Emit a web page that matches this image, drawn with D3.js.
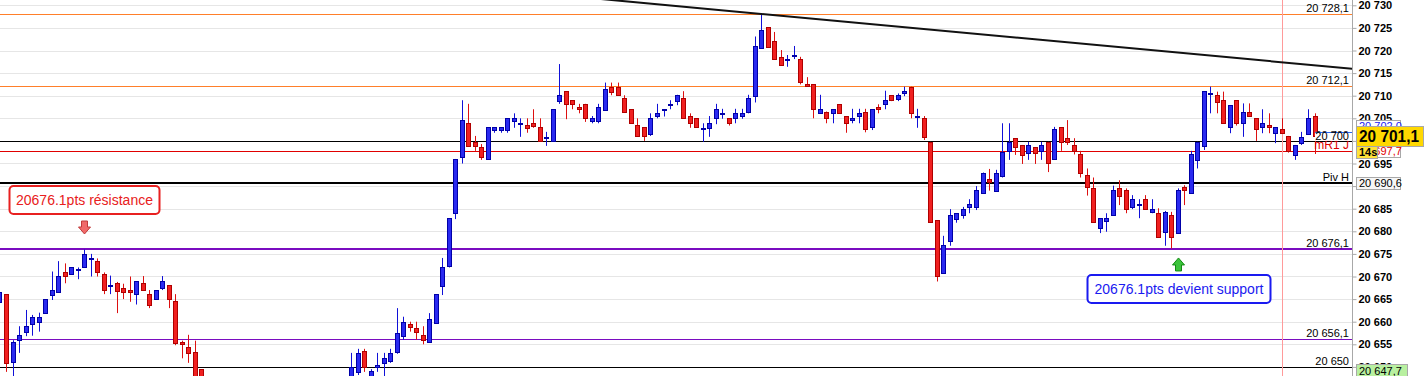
<!DOCTYPE html>
<html>
<head>
<meta charset="utf-8">
<script src="https://cdn.jsdelivr.net/npm/d3@7"></script>
<style>
  body { margin: 0; background: #fff; overflow: hidden; }
  svg { display: block; font-family: Arial, "Liberation Sans", sans-serif; }
</style>
</head>
<body>
<svg id="chart" width="1424" height="376"></svg>
<script>
/*global d3*/

// index of the first candle (it is cut by the left edge)
var firstIndex = -1;

var opens = [
  20664.4, 20666.1, 20651.1, 20656.0, 20657.8, 20659.4, 20659.9, 20661.9, 20666.0, 20666.5,
  20670.9, 20670.5, 20671.4, 20672.0, 20674.0, 20673.4, 20670.5, 20668.0, 20668.5, 20667.5,
  20667.0, 20666.1, 20668.5, 20666.1, 20665.0, 20667.4, 20668.1, 20664.6, 20655.4, 20654.3,
  20653.4, 20649.5, 20644.0, 20639.5, 20637.0, 20639.8, 20638.2, 20634.5, 20636.8, 20632.8,
  20634.2, 20636.5, 20638.9, 20635.8, 20637.9, 20640.6, 20639.1, 20642.4, 20641.0, 20643.0,
  20644.2, 20641.8, 20643.6, 20644.8, 20646.0, 20648.9, 20653.5, 20647.0, 20649.9, 20650.9,
  20651.4, 20653.2, 20656.9, 20659.5, 20658.5, 20657.0, 20655.4, 20659.8, 20668.0, 20672.4,
  20684.0, 20696.5, 20703.9, 20699.8, 20698.6, 20695.9, 20702.5, 20702.5, 20702.4, 20704.5,
  20703.8, 20703.5, 20704.0, 20703.0, 20700.8, 20700.0, 20708.9, 20711.0, 20709.0, 20707.4,
  20708.2, 20704.5, 20704.5, 20706.8, 20711.9, 20712.0, 20709.4, 20707.0, 20703.5, 20703.0,
  20701.5, 20705.4, 20706.9, 20708.1, 20708.9, 20709.4, 20705.4, 20705.0, 20702.7, 20702.9,
  20705.0, 20706.0, 20705.0, 20705.0, 20705.4, 20706.5, 20710.0, 20720.5, 20725.1, 20722.0,
  20718.5, 20718.0, 20718.9, 20718.1, 20712.6, 20712.5, 20706.1, 20706.5, 20706.1, 20708.1,
  20705.5, 20704.6, 20705.4, 20706.5, 20703.0, 20707.5, 20708.1, 20710.1, 20709.3, 20710.5,
  20712.0, 20705.4, 20705.0, 20699.8, 20682.5, 20670.8, 20677.9, 20682.8, 20683.5, 20685.4,
  20685.4, 20688.4, 20691.5, 20689.0, 20692.2, 20697.8, 20700.6, 20699.1, 20697.4, 20698.6,
  20697.8, 20699.8, 20695.9, 20703.0, 20700.6, 20699.1, 20697.0, 20692.4, 20689.5, 20680.8,
  20682.3, 20683.5, 20689.5, 20689.1, 20685.4, 20685.9, 20687.1, 20684.3, 20684.0, 20679.9,
  20683.6, 20679.6, 20689.7, 20688.4, 20695.8, 20698.9, 20710.4, 20710.2, 20709.0, 20703.0,
  20709.0, 20703.9, 20706.5, 20705.0, 20703.0, 20703.5, 20701.8, 20702.6, 20701.1, 20696.9,
  20699.5, 20701.5, 20705.5
];

var highs = [
  20668.1, 20666.1, 20655.9, 20659.0, 20662.6, 20661.5, 20662.0, 20665.0, 20671.1, 20673.4,
  20672.9, 20672.0, 20672.0, 20676.0, 20675.0, 20674.0, 20670.9, 20670.2, 20668.8, 20668.4,
  20670.0, 20669.0, 20670.1, 20667.0, 20667.0, 20670.1, 20668.1, 20666.1, 20655.8, 20657.1,
  20655.8, 20649.5, 20645.5, 20641.0, 20640.5, 20642.0, 20639.0, 20637.5, 20638.0, 20635.0,
  20637.0, 20639.5, 20640.0, 20638.5, 20641.5, 20642.5, 20643.0, 20644.5, 20643.5, 20645.8,
  20645.0, 20644.5, 20646.0, 20646.5, 20653.1, 20654.0, 20654.0, 20649.5, 20653.1, 20653.1,
  20654.0, 20663.0, 20661.1, 20660.0, 20660.0, 20659.0, 20661.9, 20666.1, 20674.1, 20682.9,
  20696.0, 20709.0, 20708.2, 20701.1, 20699.3, 20703.0, 20703.0, 20703.0, 20705.0, 20706.1,
  20705.0, 20705.0, 20707.0, 20705.0, 20702.0, 20707.0, 20717.0, 20711.0, 20709.0, 20708.2,
  20708.2, 20705.5, 20708.2, 20712.9, 20712.9, 20712.9, 20710.1, 20707.0, 20705.0, 20703.0,
  20706.1, 20708.2, 20707.0, 20709.0, 20710.2, 20711.0, 20706.1, 20705.0, 20703.9, 20705.5,
  20708.2, 20707.1, 20705.0, 20707.1, 20707.1, 20710.2, 20723.1, 20728.1, 20725.1, 20724.1,
  20720.1, 20719.0, 20721.0, 20718.6, 20714.1, 20712.5, 20710.2, 20706.5, 20707.0, 20708.1,
  20705.5, 20707.1, 20707.1, 20707.1, 20707.0, 20708.1, 20711.1, 20710.1, 20710.5, 20712.0,
  20712.0, 20707.1, 20705.5, 20699.8, 20682.5, 20679.0, 20684.9, 20684.0, 20685.4, 20687.1,
  20690.0, 20693.0, 20693.8, 20693.6, 20703.9, 20703.9, 20700.6, 20699.1, 20699.8, 20698.6,
  20699.8, 20699.8, 20703.1, 20703.0, 20704.6, 20700.6, 20697.8, 20693.9, 20691.9, 20682.9,
  20684.0, 20690.1, 20691.3, 20689.5, 20688.0, 20687.1, 20688.0, 20687.1, 20685.1, 20684.5,
  20684.3, 20689.5, 20690.2, 20697.8, 20699.8, 20711.0, 20712.0, 20710.9, 20710.9, 20707.9,
  20709.0, 20708.3, 20708.3, 20705.0, 20707.0, 20706.1, 20703.0, 20705.0, 20701.1, 20699.1,
  20702.0, 20707.0, 20706.1
];

var lows = [
  20663.5, 20648.9, 20646.0, 20653.1, 20656.8, 20656.9, 20657.8, 20661.9, 20664.8, 20666.5,
  20668.5, 20670.5, 20669.4, 20672.0, 20670.0, 20670.0, 20666.1, 20666.1, 20661.9, 20665.0,
  20664.4, 20663.8, 20667.0, 20663.0, 20665.0, 20667.0, 20663.0, 20654.8, 20651.9, 20650.9,
  20643.0, 20642.0, 20638.0, 20635.5, 20636.0, 20637.5, 20633.0, 20633.5, 20632.0, 20630.5,
  20633.0, 20635.5, 20635.0, 20634.0, 20637.0, 20638.0, 20638.5, 20640.0, 20639.0, 20641.5,
  20640.5, 20640.0, 20642.0, 20643.0, 20644.5, 20648.2, 20648.9, 20645.0, 20648.9, 20647.0,
  20650.9, 20652.9, 20656.0, 20657.8, 20656.0, 20655.0, 20655.4, 20659.8, 20665.9, 20672.0,
  20682.7, 20695.0, 20698.9, 20697.8, 20695.8, 20695.9, 20701.8, 20701.8, 20701.8, 20702.9,
  20700.9, 20701.8, 20702.9, 20700.0, 20698.9, 20700.0, 20708.2, 20704.8, 20707.0, 20706.1,
  20704.2, 20703.9, 20703.9, 20706.8, 20710.1, 20710.1, 20706.5, 20703.9, 20701.1, 20700.0,
  20701.1, 20705.0, 20705.4, 20707.0, 20707.9, 20705.0, 20702.9, 20703.0, 20699.8, 20700.9,
  20703.7, 20704.9, 20703.4, 20703.9, 20704.9, 20706.1, 20708.5, 20720.5, 20720.8, 20718.1,
  20716.9, 20716.4, 20718.1, 20712.5, 20712.1, 20705.0, 20706.1, 20703.9, 20703.9, 20706.1,
  20701.8, 20703.9, 20703.9, 20701.9, 20702.4, 20706.1, 20707.0, 20708.8, 20708.8, 20709.9,
  20705.0, 20702.9, 20700.2, 20682.0, 20668.9, 20670.8, 20676.8, 20681.9, 20682.8, 20684.0,
  20684.7, 20688.4, 20689.0, 20689.0, 20691.9, 20695.8, 20696.9, 20694.9, 20695.8, 20694.9,
  20695.8, 20693.1, 20695.9, 20697.8, 20699.1, 20697.0, 20691.9, 20687.9, 20682.0, 20679.6,
  20679.9, 20683.5, 20685.8, 20684.0, 20684.9, 20682.9, 20684.9, 20684.0, 20678.8, 20676.8,
  20676.2, 20679.6, 20685.8, 20688.4, 20693.9, 20698.0, 20706.1, 20706.1, 20703.9, 20701.7,
  20703.4, 20700.9, 20705.4, 20700.0, 20701.7, 20701.7, 20699.5, 20701.8, 20697.4, 20695.8,
  20699.1, 20701.5, 20697.1
];

var closes = [
  20666.5, 20650.9, 20655.4, 20657.1, 20659.0, 20661.1, 20661.1, 20665.0, 20667.0, 20670.0,
  20670.0, 20672.0, 20671.6, 20675.0, 20674.1, 20670.9, 20667.0, 20668.1, 20666.9, 20666.5,
  20666.5, 20669.0, 20667.0, 20663.8, 20667.0, 20668.9, 20665.0, 20655.2, 20655.0, 20653.0,
  20645.0, 20644.0, 20639.5, 20637.0, 20639.8, 20638.2, 20634.5, 20636.8, 20632.8, 20634.2,
  20636.5, 20638.9, 20635.8, 20637.9, 20640.6, 20639.1, 20642.4, 20641.0, 20643.0, 20644.2,
  20641.8, 20643.6, 20644.8, 20646.0, 20649.9, 20653.1, 20649.9, 20649.1, 20650.4, 20651.9,
  20653.1, 20657.4, 20659.9, 20658.9, 20657.8, 20656.0, 20660.5, 20666.1, 20672.0, 20682.9,
  20696.0, 20704.6, 20698.9, 20698.9, 20696.5, 20703.0, 20703.0, 20703.0, 20705.0, 20705.0,
  20703.9, 20702.9, 20703.4, 20700.0, 20700.9, 20707.0, 20710.2, 20708.2, 20708.1, 20707.0,
  20705.0, 20705.0, 20707.4, 20711.4, 20710.9, 20710.1, 20706.5, 20703.9, 20701.1, 20701.1,
  20705.0, 20706.1, 20707.0, 20708.2, 20710.2, 20705.0, 20703.9, 20703.0, 20702.8, 20703.9,
  20707.0, 20706.1, 20703.9, 20706.1, 20706.2, 20709.4, 20721.0, 20724.5, 20720.8, 20718.1,
  20716.9, 20718.1, 20719.0, 20713.0, 20712.1, 20707.0, 20707.0, 20705.0, 20707.0, 20706.1,
  20703.9, 20705.1, 20706.2, 20702.6, 20707.0, 20707.0, 20709.0, 20709.0, 20710.1, 20711.1,
  20706.1, 20705.5, 20700.9, 20682.0, 20670.0, 20677.0, 20683.6, 20684.0, 20684.9, 20686.0,
  20689.1, 20693.0, 20691.0, 20693.0, 20697.5, 20699.8, 20698.6, 20696.9, 20699.1, 20697.4,
  20699.1, 20695.0, 20702.6, 20699.8, 20699.8, 20697.8, 20693.0, 20689.9, 20682.0, 20682.9,
  20682.9, 20689.1, 20687.9, 20684.9, 20687.1, 20686.0, 20684.9, 20684.9, 20678.8, 20684.2,
  20678.8, 20689.1, 20689.1, 20697.0, 20699.8, 20711.0, 20710.5, 20708.5, 20703.9, 20707.9,
  20703.9, 20706.5, 20705.4, 20702.6, 20703.9, 20703.0, 20703.0, 20701.8, 20697.8, 20699.1,
  20700.9, 20705.0, 20701.1
];

// right axis ticks
var tickValues = d3.range(20650, 20731, 5);

// horizontal levels and their labels
var levelValues = [20728.1, 20712.1, 20700, 20697.7, 20690.6, 20676.1, 20656.1, 20650];
var levelLabels = ["20 728,1", "20 712,1", "20 700", "mR1 J", "Piv H", "20 676,1", "20 656,1", "20 650"];

// trend line anchors: candle index and price
var trendIndex = [116, 196];
var trendPrice = [20728.1, 20717.4];

// vertical marker (candle index)
var markerIndex = 196;

// axis price boxes
var lastPrice = 20701.1;
var bidPrice = 20702.0;
var lowOfDay = 20647.7;

// notes
var noteTexts = ["20676.1pts résistance", "20676.1pts devient support"];
var noteIndex = [12, 180];
var notePrice = [20679.4, 20674.1];

window.onload = function () {
    var svg = d3.select("#chart"),
        height = 376,
        plotRight = 1352;

    var x = d3.scaleLinear().domain([0, 200]).range([6, 6 + 6.51 * 200]),
        y = d3.scaleLinear().domain([20650, 20730]).range([366.9, 5.3]);

    var loc = d3.formatLocale({decimal: ",", thousands: " ", grouping: [3], currency: ["", ""]}),
        fmt0 = loc.format(",.0f"),
        fmt1 = loc.format(",.1f");

    var px = function (k) { return Math.round(x(k)); },
        py = function (v) { return Math.round(y(v)); };

    svg.append("defs").append("clipPath").attr("id", "plot")
        .append("rect").attr("x", 0).attr("y", 0).attr("width", plotRight).attr("height", height);

    var plot = svg.append("g").attr("clip-path", "url(#plot)");

    /** grid **/
    plot.selectAll("line.grid").data(tickValues).enter().append("line")
        .attr("class", "grid")
        .attr("x1", 0).attr("x2", plotRight)
        .attr("y1", function (d) { return py(d) + 0.5; })
        .attr("y2", function (d) { return py(d) + 0.5; })
        .attr("stroke", "#e6e6e6");

    /** horizontal levels **/
    var levelColor = ["#ff7f2a", "#ff7f2a", "#000", "#e00000", "#000", "#7a0cc0", "#7a0cc0", "#000"],
        levelWidth = [1, 1, 1, 1, 2, 2, 1, 1];

    levelValues.forEach(function (v, i) {
        var yy = levelWidth[i] === 2 ? py(v) : py(v) + 0.5;
        plot.append("line")
            .attr("x1", 0).attr("x2", plotRight)
            .attr("y1", yy).attr("y2", yy)
            .attr("stroke", levelColor[i])
            .attr("stroke-width", levelWidth[i]);
    });

    /** vertical marker **/
    plot.append("line")
        .attr("x1", px(markerIndex) + 0.5).attr("x2", px(markerIndex) + 0.5)
        .attr("y1", 0).attr("y2", height)
        .attr("stroke", "#ff9a9a");

    /** candles **/
    var candles = opens.map(function (o, i) {
        return {k: i + firstIndex, o: o, h: highs[i], l: lows[i], c: closes[i]};
    });

    var g = plot.selectAll("g.candle").data(candles).enter().append("g").attr("class", "candle");

    g.append("line")
        .attr("x1", function (d) { return px(d.k) + 0.5; })
        .attr("x2", function (d) { return px(d.k) + 0.5; })
        .attr("y1", function (d) { return y(d.h); })
        .attr("y2", function (d) { return y(d.l); })
        .attr("stroke", function (d) { return d.c >= d.o ? "#1010d8" : "#dd1010"; });

    g.append("rect")
        .attr("x", function (d) { return px(d.k) - 1.5; })
        .attr("width", 4)
        .attr("y", function (d) { return py(Math.max(d.o, d.c)) + 0.5; })
        .attr("height", function (d) { return Math.max(1, py(Math.min(d.o, d.c)) - py(Math.max(d.o, d.c))); })
        .attr("fill", function (d) { return d.c >= d.o ? "#2a2af0" : "#f02020"; })
        .attr("stroke", function (d) { return d.c >= d.o ? "#0000a8" : "#b00000"; });

    /** trend line **/
    var slope = (trendPrice[1] - trendPrice[0]) / (trendIndex[1] - trendIndex[0]);
    plot.append("line")
        .attr("x1", x(80)).attr("y1", y(trendPrice[0] + slope * (80 - trendIndex[0])))
        .attr("x2", x(215)).attr("y2", y(trendPrice[0] + slope * (215 - trendIndex[0])))
        .attr("stroke", "#111")
        .attr("stroke-width", 2);

    /** level labels **/
    levelValues.forEach(function (v, i) {
        var isPivot = levelLabels[i] === "mR1 J";
        plot.append("text")
            .attr("x", plotRight - 3)
            .attr("y", y(v) - 2)
            .attr("text-anchor", "end")
            .attr("font-size", isPivot ? 12 : 11)
            .attr("fill", isPivot ? "#e00000" : "#000")
            .text(levelLabels[i]);
    });

    // 20 700 label sits in a small white box with a blue top edge
    var lbl = y(levelValues[2]);
    plot.append("rect")
        .attr("x", 1315).attr("y", lbl - 9)
        .attr("width", plotRight - 1315).attr("height", 9)
        .attr("fill", "#fff");
    plot.append("line")
        .attr("x1", 1315).attr("x2", plotRight)
        .attr("y1", Math.round(lbl - 9) + 0.5).attr("y2", Math.round(lbl - 9) + 0.5)
        .attr("stroke", "#2a6af0");
    plot.append("text")
        .attr("x", plotRight - 3)
        .attr("y", lbl - 1)
        .attr("text-anchor", "end")
        .attr("font-size", 11)
        .attr("fill", "#000")
        .text(levelLabels[2]);

    /** notes **/
    var drawNote = function (i, boxW, dx, dy, color, up) {
        var ax = px(noteIndex[i]) + 0.5,
            ay = y(notePrice[i]),
            s = up ? 1 : -1,
            arrow = [[ax, ay], [ax + 6, ay + 7 * s], [ax + 3, ay + 7 * s], [ax + 3, ay + 13 * s],
                     [ax - 3, ay + 13 * s], [ax - 3, ay + 7 * s], [ax - 6, ay + 7 * s]];

        plot.append("path")
            .attr("d", d3.line()(arrow) + "Z")
            .attr("fill", up ? "#3cc43c" : "#f06a6a")
            .attr("stroke", up ? "#128a12" : "#c03a3a");

        var bx = ax + dx, by = ay + dy;
        plot.append("rect")
            .attr("x", bx).attr("y", by)
            .attr("width", boxW).attr("height", 28)
            .attr("rx", 4)
            .attr("fill", "#fff")
            .attr("stroke", color)
            .attr("stroke-width", 2);
        plot.append("text")
            .attr("x", bx + boxW / 2).attr("y", by + 19)
            .attr("text-anchor", "middle")
            .attr("font-size", 14)
            .attr("fill", color)
            .text(noteTexts[i]);
    };
    drawNote(0, 150, -75, -48, "#e82020", false);
    drawNote(1, 183, -91, 17, "#1a1af0", true);

    /** right axis **/
    var axis = svg.append("g")
        .attr("transform", "translate(" + (plotRight + 0.5) + ",0)")
        .call(d3.axisRight(y).tickValues(tickValues).tickSize(4).tickPadding(2).tickFormat(fmt0));
    axis.select(".domain").attr("stroke", "#a8a8a8").attr("d", "M0,0V" + height);
    axis.selectAll(".tick line").attr("stroke", "#a8a8a8");
    axis.selectAll(".tick text")
        .attr("font-family", "Arial, 'Liberation Sans', sans-serif")
        .attr("font-size", 11)
        .attr("font-weight", "bold")
        .attr("fill", "#000");

    /** price boxes on the axis **/
    var priceBox = function (x0, y0, w, h, fill, text, color, size, bold) {
        var b = svg.append("g");
        b.append("rect")
            .attr("x", x0 + 0.5).attr("y", y0 + 0.5)
            .attr("width", w).attr("height", h)
            .attr("fill", fill)
            .attr("stroke", "#a8a8a8");
        return b.append("text")
            .attr("x", x0 + 3).attr("y", y0 + h / 2 + size * 0.36)
            .attr("font-size", size)
            .attr("font-weight", bold ? "bold" : "normal")
            .attr("fill", color)
            .text(text);
    };
    priceBox(1356, py(bidPrice) - 12, 44, 13, "#fff", fmt1(bidPrice), "#1a1af0", 11, false);
    priceBox(1356, py(levelValues[3]) - 6, 44, 12, "#fff", fmt1(levelValues[3]), "#e00000", 11, false);
    priceBox(1356, py(lastPrice) - 10, 67, 20, "#ffd800", fmt1(lastPrice), "#000", 17, true)
        .attr("textLength", 60).attr("lengthAdjust", "spacingAndGlyphs");
    priceBox(1356, py(lastPrice) + 10, 21, 12, "#ffe23a", "14s", "#000", 11, true);
    priceBox(1356, py(levelValues[4]) - 6, 44, 12, "#f6f6f6", fmt1(levelValues[4]), "#000", 11, false);
    // day low is below the visible range: its box is pinned to the bottom edge
    priceBox(1356, height - 12, 51, 16, "#b8f0a0", fmt1(lowOfDay), "#000", 11, false)
        .attr("y", height - 1);
};
</script>
</body>
</html>
